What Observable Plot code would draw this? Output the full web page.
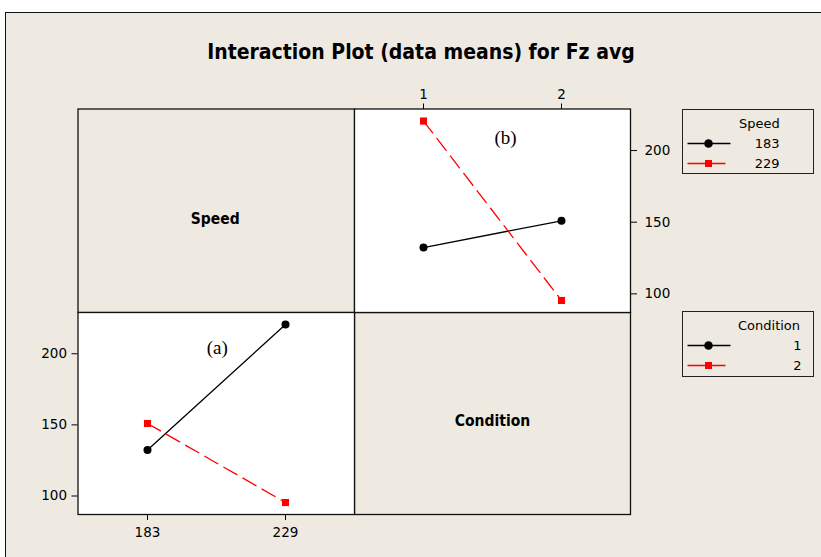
<!DOCTYPE html>
<html>
<head>
<meta charset="utf-8">
<script src="https://cdn.jsdelivr.net/npm/d3@7"></script>
<script src="https://cdn.jsdelivr.net/npm/@observablehq/plot@0.6"></script>
<style>
  html, body { margin: 0; padding: 0; background: #ffffff; }
  #chart { position: relative; width: 821px; height: 557px; overflow: hidden; background: #ffffff; }
  #bg { position: absolute; left: 5px; top: 12px; right: 0; bottom: 0; background: #EEEAE1;
        border-left: 1px solid #111; border-top: 1px solid #111; }
  #title { position: absolute; left: 0; width: 842px; top: 40px; line-height: 24px; text-align: center;
           font-family: "DejaVu Sans Condensed", "DejaVu Sans", sans-serif; font-stretch: condensed;
           font-weight: bold; font-size: 21px; color: #000; white-space: nowrap; }
</style>
</head>
<body>
<div id="chart">
  <div id="bg"></div>
  <div id="title">Interaction Plot (data means) for Fz avg</div>
</div>
<script>
// ---- data ----
const speeds = ["183", "229"];
const conditions = ["1", "2"];
// Fz avg means, indexed by condition (1, 2)
const fzSpeed183 = [132.3, 151.0];
const fzSpeed229 = [220.6, 95.4];
const yTicks = [100, 150, 200];
const yDomain = [87, 229];
const factorNames = ["Speed", "Condition"];
const panelTags = ["(a)", "(b)"];

// ---- table ----
const fzBySpeed = { "183": fzSpeed183, "229": fzSpeed229 };
const rows = speeds.flatMap(s => conditions.map((c, i) => ({ speed: s, condition: c, value: fzBySpeed[s][i] })));

// ---- layout & style ----
const W = 821, H = 557;
const X0 = 77.5, X1 = 354, X2 = 630;
const Y0 = 108.5, Y1 = 312, Y2 = 514;
const levelColors = ["black", "red"];
const levelSymbols = ["circle", "square"];
const dash = "15,7";
const tickFont = "DejaVu Sans";
const boldFont = "DejaVu Sans Condensed";
const tickTexts = new Set([...speeds, ...conditions, ...yTicks.map(String)]);

const chart = document.getElementById("chart");

function place(svg) {
  svg.style.position = "absolute";
  svg.style.left = "0px";
  svg.style.top = "0px";
  svg.querySelectorAll("text").forEach(t => {
    if (tickTexts.has(t.textContent.trim())) {
      t.setAttribute("font-size", "13.5");
      t.style.fontSize = "13.5px";
      t.style.fontFamily = tickFont;
    }
  });
  chart.appendChild(svg);
}

function panelPlot(box, opts) {
  return Plot.plot({
    width: W, height: H,
    marginLeft: box[0], marginRight: W - box[1], marginTop: box[2], marginBottom: H - box[3],
    style: { background: "transparent", fontFamily: tickFont, fontSize: "13.5px", color: "black", overflow: "visible" },
    ...opts
  });
}

function interactionMarks(xKey, groupKey, groupDomain, tag, tagDx, tagDy) {
  return [
    Plot.frame({ fill: "white" }),
    Plot.line(rows.filter(d => d[groupKey] === groupDomain[0]), { x: xKey, y: "value", stroke: groupKey, strokeWidth: 1.3 }),
    Plot.line(rows.filter(d => d[groupKey] === groupDomain[1]), { x: xKey, y: "value", stroke: groupKey, strokeWidth: 1.3, strokeDasharray: dash }),
    Plot.dot(rows, { x: xKey, y: "value", fill: groupKey, symbol: groupKey, r: 4, stroke: "none" }),
    Plot.text([tag], { text: d => d, frameAnchor: "top", dx: tagDx, dy: tagDy, fontFamily: "Liberation Serif", fontSize: 19, fill: "black" }),
    Plot.frame({ stroke: "#111", strokeWidth: 1.3 })
  ];
}

// top-left: factor name "Speed"
place(panelPlot([X0, X1, Y0, Y1], {
  marks: [
    Plot.text([factorNames[0]], { text: d => d, frameAnchor: "middle", dx: -1, dy: 8, fontFamily: boldFont, fontWeight: "bold", fontSize: 15.5, fill: "black" }),
    Plot.frame({ stroke: "#111", strokeWidth: 1.3 })
  ]
}));

// bottom-right: factor name "Condition"
place(panelPlot([X1, X2, Y1, Y2], {
  marks: [
    Plot.text([factorNames[1]], { text: d => d, frameAnchor: "middle", dy: 8, fontFamily: boldFont, fontWeight: "bold", fontSize: 15.5, fill: "black" }),
    Plot.frame({ stroke: "#111", strokeWidth: 1.3 })
  ]
}));

// (a) bottom-left: x = Speed, lines by Condition
place(panelPlot([X0, X1, Y1, Y2], {
  x: { type: "point", domain: speeds, padding: 0.5, axis: "bottom", tickSize: 6, tickPadding: 7, label: null },
  y: { domain: yDomain, ticks: yTicks, axis: "left", tickSize: 6, tickPadding: 5, label: null },
  color: { domain: conditions, range: levelColors },
  symbol: { domain: conditions, range: levelSymbols },
  marks: interactionMarks("speed", "condition", conditions, panelTags[0], 1, 28)
}));

// (b) top-right: x = Condition, lines by Speed
place(panelPlot([X1, X2, Y0, Y1], {
  x: { type: "point", domain: conditions, padding: 0.5, axis: "top", tickSize: 6, tickPadding: 4, label: null },
  y: { domain: yDomain, ticks: yTicks, axis: "right", tickSize: 6, tickPadding: 8, label: null },
  color: { domain: speeds, range: levelColors },
  symbol: { domain: speeds, range: levelSymbols },
  marks: interactionMarks("condition", "speed", speeds, panelTags[1], 13, 21)
}));

// ---- legends ----
const NS = "http://www.w3.org/2000/svg";
const legSvg = document.createElementNS(NS, "svg");
legSvg.setAttribute("width", W);
legSvg.setAttribute("height", H);
legSvg.style.position = "absolute";
legSvg.style.left = "0px";
legSvg.style.top = "0px";
chart.appendChild(legSvg);

function el(name, attrs, text) {
  const e = document.createElementNS(NS, name);
  for (const k in attrs) e.setAttribute(k, attrs[k]);
  if (text != null) e.textContent = text;
  legSvg.appendChild(e);
  return e;
}

function legend(title, levels, box, titleX, labelRight) {
  const [x, y, w, h] = box;
  el("rect", { x, y, width: w, height: h, fill: "none", stroke: "#222", "stroke-width": 1 });
  const font = { "font-family": tickFont, "font-size": 13, fill: "#000", "dominant-baseline": "central" };
  el("text", { ...font, x: titleX, y: y + 14 }, title);
  levels.forEach((lev, i) => {
    const cy = y + 34 + i * 20;
    const lineEnd = i === 0 ? x + 48 : x + 43;
    el("line", { x1: x + 5, x2: lineEnd, y1: cy, y2: cy, stroke: levelColors[i], "stroke-width": 1.3 });
    const mx = x + 26;
    if (levelSymbols[i] === "circle") el("circle", { cx: mx, cy, r: 4.3, fill: levelColors[i] });
    else el("rect", { x: mx - 3.5, y: cy - 3.5, width: 7, height: 7, fill: levelColors[i] });
    el("text", { ...font, x: labelRight, y: cy, "text-anchor": "end" }, lev);
  });
}

legend(factorNames[0], speeds, [682.5, 109.5, 131, 64], 739, 779.5);
legend(factorNames[1], conditions, [682.5, 311.5, 131, 65], 738, 801.5);
</script>
</body>
</html>
